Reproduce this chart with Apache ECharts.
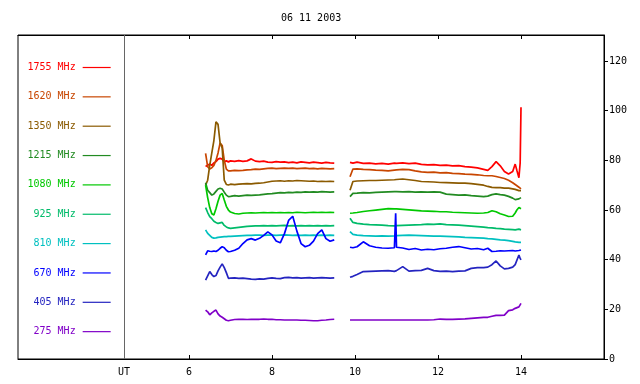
<!DOCTYPE html>
<html>
<head>
<meta charset="utf-8">
<script src="https://cdn.jsdelivr.net/npm/echarts@6/dist/echarts.min.js"></script>
<style>html,body{margin:0;padding:0;background:#fff}#c{width:640px;height:384px}</style>
</head>
<body>
<div id="c"></div>
<script>
// ---- data (hours UT) ----
const timesA = [6.40,6.45,6.50,6.55,6.60,6.65,6.70,6.75,6.80,6.85,6.90,6.95,
  7.00,7.10,7.20,7.30,7.40,7.50,7.60,7.70,7.80,7.90,
  8.00,8.10,8.20,8.30,8.40,8.50,8.60,8.70,8.80,8.90,
  9.00,9.10,9.20,9.30,9.40,9.50];
const gapTime = 9.70;
const timesB = [9.88,9.95,
  10.05,10.20,10.35,10.50,10.65,10.80,10.95,10.98,
  11.00,11.15,11.30,11.45,11.60,11.75,11.90,
  12.05,12.20,12.35,12.50,12.65,12.80,12.95,
  13.10,13.20,13.30,13.40,13.50,13.60,13.70,13.80,13.86,13.90,13.95,13.98,
  14.00];
const times = [...timesA, gapTime, ...timesB];

const s1755 = [77.5,78.0,78.5,78.0,79.0,79.5,80.5,80.8,80.5,79.5,79.8,79.4,
  79.8,79.6,79.9,79.6,79.8,80.6,79.7,79.5,79.7,79.3,
  79.2,79.5,79.3,79.4,79.1,79.3,79.0,79.4,79.2,79.0,
  79.3,79.1,78.9,79.2,79.0,78.9,
  null,
  79.2,78.9,
  79.3,78.8,78.9,78.6,78.8,78.5,78.9,78.7,
  78.8,79.0,78.7,78.9,78.4,78.2,78.3,
  78.0,78.1,77.8,77.9,77.5,77.3,77.0,
  76.4,76.0,77.5,79.5,77.8,75.5,74.5,75.5,78.5,76.0,73.0,79.0,
  101.4];
const s1620 = [82.8,77.5,76.5,77.0,78.0,80.0,83.0,87.0,86.0,80.0,76.5,75.8,
  75.8,76.0,75.9,76.0,76.2,76.3,76.5,76.4,76.6,76.8,
  76.9,76.7,76.8,76.9,76.8,76.9,76.7,76.8,76.9,76.7,
  76.8,76.6,76.8,76.7,76.6,76.7,
  null,
  73.4,76.5,
  76.6,76.4,76.3,76.1,76.0,75.8,76.1,76.0,
  76.2,76.4,76.3,75.8,75.4,75.2,75.3,
  75.0,75.1,74.8,74.7,74.5,74.4,74.2,
  73.9,73.8,73.8,73.5,73.1,72.7,72.0,71.0,70.3,69.8,69.2,68.9,
  68.5];
const s1350 = [70.0,72.0,78.0,83.0,88.0,95.5,94.5,87.0,85.0,72.0,70.3,70.1,
  70.4,70.2,70.4,70.5,70.6,70.5,70.7,70.8,71.0,71.3,
  71.6,71.7,71.8,71.6,71.8,71.7,71.9,71.8,71.7,71.6,
  71.7,71.5,71.6,71.5,71.6,71.5,
  null,
  68.0,71.5,
  71.7,71.8,71.9,71.9,72.0,72.1,72.2,72.2,
  72.3,72.5,72.2,71.9,71.5,71.4,71.3,
  71.1,71.0,70.9,70.8,70.8,70.6,70.3,
  70.0,69.5,69.1,69.0,69.0,68.8,68.8,68.5,68.3,68.0,67.8,67.5,
  67.8];
const s1215 = [71.0,68.0,67.0,66.0,66.5,67.5,68.5,68.8,68.5,67.2,66.0,65.4,
  65.5,65.8,65.6,65.8,66.0,65.9,66.0,66.1,66.3,66.5,
  66.6,66.8,67.0,66.9,67.1,67.0,67.2,67.1,67.3,67.2,
  67.3,67.2,67.4,67.3,67.2,67.3,
  null,
  65.4,66.7,
  66.8,67.0,66.9,67.1,67.2,67.3,67.4,67.4,
  67.4,67.3,67.4,67.2,67.3,67.2,67.3,
  67.2,66.4,66.2,66.0,66.1,65.8,65.6,
  65.4,65.6,66.2,66.5,66.2,66.0,65.5,64.8,64.2,64.0,64.5,64.3,
  65.0];
const s1080 = [70.0,65.0,61.0,58.5,58.0,60.5,63.5,66.0,66.7,64.0,61.5,60.0,
  59.2,58.6,58.4,58.7,58.8,58.9,58.8,58.9,59.0,58.9,
  59.0,58.9,59.0,58.9,59.0,58.9,59.1,59.0,58.9,59.0,
  59.1,59.0,59.1,59.0,59.1,59.0,
  null,
  58.7,58.8,
  59.0,59.4,59.7,60.0,60.3,60.6,60.5,60.4,
  60.5,60.3,60.1,59.9,59.7,59.6,59.5,
  59.3,59.3,59.1,59.0,58.9,58.8,58.7,
  58.8,59.0,59.7,59.3,58.5,58.0,57.4,57.5,58.8,60.0,61.0,61.5,
  60.5];
const s925 = [61.0,59.0,57.3,56.5,55.5,55.0,54.6,54.8,55.0,53.8,53.2,52.8,
  52.6,52.8,53.0,53.2,53.4,53.5,53.6,53.6,53.7,53.6,
  53.7,53.6,53.7,53.8,53.6,53.7,53.6,53.7,53.6,53.7,
  53.6,53.7,53.6,53.7,53.6,53.7,
  null,
  56.7,55.0,
  54.6,54.3,54.1,54.0,53.9,53.7,53.6,53.6,
  53.7,53.8,53.9,54.0,54.1,54.3,54.2,
  54.4,54.1,54.0,53.9,53.7,53.5,53.3,
  53.1,52.9,52.8,52.6,52.5,52.3,52.2,52.1,52.0,51.8,52.3,52.1,
  52.0];
const s810 = [52.0,50.6,49.8,49.0,48.7,48.8,49.0,49.1,49.2,49.3,49.3,49.4,
  49.4,49.5,49.6,49.7,49.8,49.8,49.9,49.9,49.8,49.9,
  49.9,49.8,49.9,50.0,49.9,49.8,49.9,49.8,49.9,49.8,
  49.9,49.8,49.9,49.8,49.9,49.8,
  null,
  51.3,50.2,
  49.9,49.7,49.6,49.5,49.6,49.5,49.6,49.6,
  49.7,49.8,49.9,49.8,49.7,49.6,49.5,
  49.5,49.4,49.3,49.2,49.0,48.9,48.8,
  48.7,48.5,48.4,48.2,48.0,47.9,47.7,47.4,47.2,47.1,47.0,47.1,
  47.0];
const s670 = [41.9,43.6,43.4,43.3,43.5,43.3,43.8,44.6,45.2,44.8,43.8,43.2,
  43.3,43.8,44.6,46.5,48.0,48.5,47.9,48.6,49.8,51.2,
  50.0,47.5,46.8,50.5,55.8,57.5,51.5,46.5,45.2,45.8,
  47.5,50.5,52.0,48.5,47.4,48.0,
  null,
  45.0,44.8,
  45.2,47.2,45.6,45.0,44.7,44.6,44.8,58.7,
  45.0,44.7,44.1,44.5,43.9,44.2,44.0,
  44.4,44.6,45.0,45.3,44.8,44.3,44.5,
  44.0,44.6,43.3,43.4,43.6,43.5,43.6,43.7,43.5,43.9,43.7,44.0,
  43.9];
const s405 = [31.8,33.5,35.2,34.0,33.2,33.6,35.5,37.0,38.3,36.8,34.8,32.5,
  32.6,32.7,32.5,32.6,32.4,32.2,32.1,32.3,32.2,32.5,
  32.7,32.5,32.4,32.8,32.9,32.7,32.8,32.6,32.7,32.8,
  32.6,32.7,32.8,32.7,32.6,32.7,
  null,
  32.9,33.3,
  34.0,35.2,35.3,35.4,35.5,35.6,35.3,35.4,
  35.6,37.2,35.4,35.6,35.7,36.5,35.6,
  35.3,35.4,35.2,35.4,35.5,36.5,36.8,
  36.8,37.0,38.0,39.5,37.5,36.3,36.5,37.0,38.0,38.8,41.9,40.5,
  39.9];
const s275 = [19.7,19.0,17.8,18.6,19.2,19.7,18.2,17.3,16.8,16.2,15.6,15.4,
  15.6,15.9,16.0,16.0,15.9,16.0,16.0,16.0,16.1,16.0,
  16.0,15.8,15.8,15.7,15.7,15.7,15.7,15.6,15.6,15.5,
  15.4,15.4,15.6,15.7,15.9,16.0,
  null,
  15.7,15.7,
  15.7,15.7,15.7,15.7,15.7,15.7,15.7,15.7,
  15.7,15.7,15.7,15.7,15.7,15.7,15.8,
  16.1,16.0,16.0,16.1,16.2,16.4,16.6,
  16.8,16.8,17.2,17.6,17.6,17.7,19.5,19.8,20.4,20.6,21.0,21.4,
  22.4];

const seriesNames = ['1755 MHz','1620 MHz','1350 MHz','1215 MHz','1080 MHz','925 MHz','810 MHz','670 MHz','405 MHz','275 MHz'];
const seriesValues = [s1755,s1620,s1350,s1215,s1080,s925,s810,s670,s405,s275];
const colors = ['#ff0000','#c84600','#8b5a00','#228b22','#00c800','#00bb6a','#00c0c0','#0000ff','#2424c0','#8000c8'];
const tickHours = [6,8,10,12,14];
const utHour = 4.434;
const yTicks = [0,20,40,60,80,100,120];
const titleText = '06 11 2003';

// ---- chart ----
const FONT = 'DejaVu Sans Mono';
const chart = echarts.init(document.getElementById('c'), null, {renderer:'canvas'});
const series = seriesNames.map((name, i) => {
  const vals = seriesValues[i];
  if (vals.length !== times.length) console.error('length mismatch', name, vals.length, times.length);
  const s = {
    name, type:'line', showSymbol:false, symbol:'none', connectNulls:false,
    color: colors[i], lineStyle:{width:1.7, color: colors[i]},
    data: times.map((t, k) => [t, vals[k]]),
    animation:false, silent:true, z: 3
  };
  if (i === 0) {
    s.markLine = {silent:true, symbol:['none','none'], label:{show:false},
      lineStyle:{color:'#666', type:'solid', width:1}, data:[{xAxis: utHour}], animation:false};
  }
  return s;
});

chart.setOption({
  animation:false,
  backgroundColor:'#fff',
  title:{text:titleText, left:281, top:13, padding:0,
    textStyle:{fontFamily:FONT, fontSize:10, fontWeight:'normal', color:'#000'}},
  legend:{
    orient:'vertical', left:22.5, top:56.5, align:'right', icon:'rect', itemWidth:28, itemHeight:1.2, itemGap:17.35,
    selectedMode:false,
    data: seriesNames.map((n,i)=>({name:n, textStyle:{color:colors[i]}})),
    formatter: n => n.padStart(8,' '),
    textStyle:{fontFamily:FONT, fontSize:10, lineHeight:12, padding:[0,2,0,0]}
  },
  grid:{left:18, right:36, top:35, bottom:25, show:true, borderColor:'#000', borderWidth:1, backgroundColor:'transparent'},
  xAxis:[{
    type:'value', min:1.88, max:16, position:'bottom',
    axisLine:{show:true, lineStyle:{color:'#000', width:1}},
    axisTick:{show:true, inside:true, length:4, customValues:tickHours, lineStyle:{color:'#000'}},
    axisLabel:{customValues:[utHour, ...tickHours], formatter: v => (Math.abs(v-utHour) < 0.01 ? 'UT' : String(Math.round(v))),
      color:'#000', fontFamily:FONT, fontSize:10, margin:8},
    splitLine:{show:false}
  },{
    type:'value', min:1.88, max:16, position:'top',
    axisLine:{show:true, lineStyle:{color:'#000', width:1}},
    axisTick:{show:true, inside:true, length:4, customValues:tickHours, lineStyle:{color:'#000'}},
    axisLabel:{show:false},
    splitLine:{show:false}
  }],
  yAxis:{
    type:'value', min:0, max:130.5, position:'right',
    axisLine:{show:true, lineStyle:{color:'#000', width:1}},
    axisTick:{show:true, inside:false, length:4, customValues:yTicks, lineStyle:{color:'#000'}},
    axisLabel:{customValues:yTicks, color:'#000', fontFamily:FONT, fontSize:10, margin:5},
    splitLine:{show:false}
  },
  series
});
</script>
</body>
</html>
